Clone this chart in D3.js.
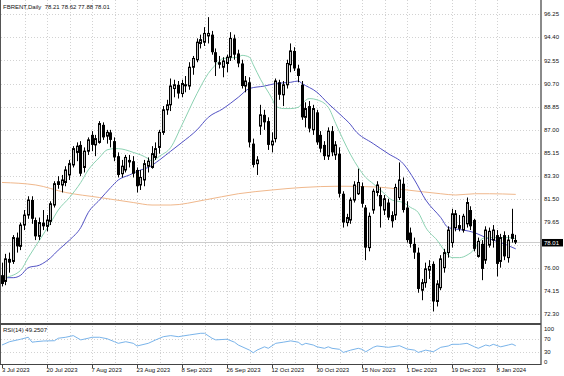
<!DOCTYPE html>
<html>
<head>
<meta charset="utf-8">
<script src="https://cdn.jsdelivr.net/npm/d3@7"></script>
<style>
  html, body { margin: 0; padding: 0; background: #fff; }
  svg { display: block; font-family: "Liberation Sans", Arial, sans-serif; }
</style>
</head>
<body>
<div id="chart"></div>
<script>
// chart values
const chartTitle = "FBRENT,Daily  78.21 78.62 77.88 78.01";
const rsiTitle = "RSI(14) 49.2507";
const holidays = ["2023-07-04", "2023-12-25", "2024-01-01"];
const dateLabels = ["3 Jul 2023", "20 Jul 2023", "7 Aug 2023", "23 Aug 2023", "8 Sep 2023", "26 Sep 2023",
  "12 Oct 2023", "30 Oct 2023", "15 Nov 2023", "1 Dec 2023", "19 Dec 2023", "8 Jan 2024"];
const priceTicks = ["96.25", "94.40", "92.55", "90.70", "88.85", "87.00", "85.15", "83.30", "81.50",
  "79.65", "77.80", "76.00", "74.15", "72.30"];
const rsiTicks = ["100", "70", "30", "0"];
const lastPrice = 78.01;

const opens = [
  75.4, 74.9, 76.7, 76.5, 78.4, 77.7, 79.4, 80.2, 81.4, 79.8,
  78.5, 79.6, 79.3, 79.7, 81.0, 82.9, 82.6, 82.8, 83.4, 84.2,
  85.2, 85.8, 84.0, 85.3, 86.6, 85.8, 86.0, 87.4, 86.5, 86.8,
  86.1, 84.9, 83.5, 83.8, 84.6, 84.5, 83.8, 82.6, 83.0, 84.1,
  84.0, 84.8, 85.6, 86.8, 88.6, 89.0, 90.3, 90.6, 89.9, 90.6,
  90.5, 92.0, 92.6, 93.9, 94.0, 94.5, 94.6, 93.2, 92.4, 92.0,
  92.3, 92.8, 94.3, 93.1, 92.3, 90.5, 90.8, 85.9, 84.3, 87.3,
  88.2, 87.7, 85.8, 86.3, 90.8, 89.8, 90.6, 92.2, 93.3, 91.9,
  90.6, 88.0, 88.9, 87.0, 88.4, 86.6, 85.8, 84.9, 86.9, 85.0,
  85.1, 81.9, 79.6, 79.8, 81.4, 81.9, 82.5, 80.8, 77.6, 80.6,
  82.0, 81.8, 80.6, 81.2, 80.2, 80.2, 81.6, 82.7, 80.8, 78.8,
  77.9, 77.2, 74.2, 74.8, 75.8, 76.3, 73.3, 74.4, 76.0, 77.2,
  78.0, 79.2, 79.4, 79.0, 79.5, 80.6, 79.8, 76.9, 77.9, 76.6,
  77.8, 78.2, 78.6, 76.5, 78.6, 76.8, 78.7, 78.21
];
const highs = [
  76.4, 77.1, 77.2, 78.6, 78.8, 79.6, 80.6, 81.7, 81.7, 80.0,
  80.0, 80.6, 80.2, 81.3, 82.9, 83.3, 83.4, 84.1, 84.6, 85.7,
  86.0, 86.1, 85.6, 86.4, 86.9, 86.6, 87.7, 87.6, 87.0, 87.0,
  86.4, 85.2, 84.6, 85.0, 85.0, 84.9, 84.0, 83.8, 84.6, 84.8,
  85.7, 86.0, 87.0, 88.9, 89.4, 91.1, 91.0, 90.9, 91.0, 91.3,
  92.4, 92.9, 94.3, 94.6, 95.2, 96.0, 94.9, 93.5, 92.9, 92.8,
  93.0, 94.8, 94.6, 93.4, 92.6, 91.3, 91.2, 86.3, 84.9, 89.0,
  88.6, 88.0, 86.8, 91.1, 91.0, 90.9, 92.6, 93.9, 93.6, 92.2,
  90.9, 89.2, 89.3, 89.0, 88.6, 86.9, 86.1, 87.2, 87.3, 86.1,
  85.6, 82.1, 80.3, 81.6, 82.9, 83.9, 82.8, 81.0, 80.4, 82.3,
  82.9, 82.4, 81.8, 81.5, 80.5, 82.7, 84.4, 83.2, 81.3, 79.2,
  78.4, 77.6, 75.1, 76.4, 76.6, 76.5, 75.0, 77.0, 77.5, 79.3,
  80.7, 80.6, 80.2, 80.3, 81.6, 80.9, 79.9, 78.4, 78.2, 79.3,
  79.2, 79.4, 79.0, 78.7, 78.9, 78.6, 80.7, 78.62
];
const lows = [
  74.5, 74.6, 75.6, 76.3, 77.2, 77.4, 79.0, 79.9, 79.5, 78.2,
  78.2, 79.0, 78.9, 79.4, 80.8, 82.3, 82.0, 82.5, 83.0, 84.0,
  84.5, 83.3, 83.6, 85.0, 85.3, 84.9, 85.9, 86.2, 85.9, 85.6,
  84.5, 83.2, 83.2, 83.6, 84.0, 83.2, 82.0, 82.2, 82.5, 83.6,
  83.9, 84.6, 85.1, 86.6, 88.2, 88.5, 89.6, 89.5, 89.6, 90.0,
  90.2, 91.4, 92.4, 93.5, 93.7, 93.9, 93.0, 91.3, 91.9, 91.2,
  91.6, 92.5, 92.6, 92.0, 90.3, 90.0, 85.6, 84.0, 83.4, 86.6,
  87.0, 85.4, 85.2, 86.0, 89.4, 88.9, 90.3, 91.6, 91.7, 90.8,
  87.8, 87.2, 86.8, 86.6, 85.8, 85.2, 84.6, 84.6, 84.9, 84.6,
  81.6, 79.2, 79.3, 79.5, 81.2, 81.8, 80.8, 76.6, 77.3, 80.3,
  81.7, 79.2, 80.2, 79.8, 79.2, 79.8, 81.4, 80.4, 78.0, 77.6,
  76.7, 74.0, 73.4, 74.4, 75.1, 72.5, 72.9, 74.2, 75.6, 76.8,
  77.6, 78.9, 78.9, 78.8, 79.2, 79.0, 77.3, 76.8, 75.0, 76.3,
  77.6, 77.6, 75.3, 76.0, 76.6, 76.4, 78.0, 77.88
];
const closes = [
  74.7, 76.7, 76.4, 78.4, 77.7, 79.4, 80.2, 81.4, 79.9, 78.5,
  79.6, 79.3, 79.8, 81.1, 82.7, 82.6, 83.0, 83.8, 84.3, 85.5,
  85.7, 83.5, 85.3, 86.2, 85.8, 86.3, 87.5, 86.4, 86.8, 86.2,
  84.8, 83.4, 84.1, 84.8, 84.4, 83.5, 82.5, 83.2, 84.3, 84.5,
  85.1, 85.5, 86.8, 88.6, 89.0, 90.5, 90.6, 89.9, 90.7, 90.6,
  92.0, 92.7, 94.0, 94.2, 94.7, 94.7, 93.2, 92.4, 92.2, 92.5,
  92.8, 94.3, 93.0, 92.3, 90.5, 90.9, 86.0, 84.2, 84.6, 88.2,
  87.6, 85.8, 86.1, 90.9, 89.8, 90.6, 92.3, 93.3, 91.9, 91.3,
  88.0, 88.7, 87.1, 88.7, 86.0, 85.5, 84.9, 86.9, 85.2, 85.8,
  81.9, 79.6, 80.0, 81.4, 82.6, 82.8, 81.1, 77.6, 80.1, 82.1,
  82.6, 80.9, 81.5, 80.0, 79.7, 82.4, 83.0, 80.6, 78.2, 77.9,
  77.2, 74.3, 74.8, 75.9, 76.1, 73.3, 74.7, 76.7, 77.2, 79.0,
  80.3, 80.3, 79.1, 80.1, 81.2, 79.3, 77.5, 78.1, 75.9, 79.0,
  78.9, 79.0, 76.3, 78.4, 76.9, 78.2, 78.3, 78.01
];

// moving averages, [bar index, value]
const fastMA = [[0,75.1],[1,75.2],[5,75.8],[7,76.8],[10,78.2],[13,79.6],[15,80.6],[18,81.6],[21,82.8],[23,83.8],
  [26,84.8],[28,85.4],[30,85.5],[31,85.5],[33,85.4],[35,85.2],[37,85.0],[39,84.7],[40,84.5],[42,84.9],
  [45,85.6],[48,87.4],[52,89.9],[55,91.5],[57,92.2],[59,92.7],[63,92.8],[64,92.95],[66,92.8],[67,92.2],
  [69,91.0],[72,89.5],[73,88.9],[75,88.7],[77,88.7],[79,88.8],[80,89.1],[82,89.5],[84,89.4],[87,88.8],
  [89,87.5],[91,86.2],[93,85.0],[95,84.0],[97,83.2],[99,82.7],[102,81.9],[104,81.4],[107,81.2],[109,80.8],
  [111,80.4],[113,79.2],[116,78.2],[119,77.0],[120,76.8],[122,76.8],[124,77.0],[126,77.5],[127,78.0],
  [129,78.4],[132,78.4],[135,78.4],[137,78.3]];
const midMA = [[0,75.2],[3,75.2],[5,75.4],[7,76.0],[10,76.2],[13,76.8],[15,77.4],[18,78.2],[21,79.2],[23,80.4],
  [26,81.4],[29,82.4],[31,83.0],[34,83.4],[37,83.8],[39,84.0],[42,84.6],[45,85.3],[48,86.0],[52,87.0],
  [55,88.0],[59,88.7],[63,89.6],[66,90.3],[70,90.5],[73,90.7],[77,90.8],[79,90.9],[80,90.7],[84,90.0],
  [87,89.1],[91,88.0],[93,87.4],[94,87.0],[99,85.9],[103,85.1],[107,84.3],[110,83.0],[113,81.4],[117,80.0],
  [119,79.2],[123,79.0],[126,78.8],[129,78.4],[133,78.0],[137,77.5]];
const slowMA = [[0,82.8],[9,82.6],[17,82.0],[26,81.6],[35,81.2],[40,81.0],[45,81.0],[54,81.4],[63,81.9],
  [72,82.2],[80,82.4],[90,82.5],[99,82.45],[108,82.2],[117,81.9],[121,81.8],[126,81.9],[130,81.9],[137,81.85]];
// RSI(14), [bar index, value]
const rsiValues = [[0,51.5],[2,61.5],[5,69],[7,75],[8,60],[9,61.5],[11,63.6],[14,64.5],[15,72],[17,75],
  [19,80],[21,67],[23,72],[24,75],[26,75],[28,70.6],[30,61.5],[31,56.6],[33,61.5],[35,56.6],[36,48.5],
  [39,56.6],[41,67],[43,76.7],[45,80],[47,76.7],[50,82],[53,87],[54,87],[56,72],[57,67],[60,69],[62,60],
  [63,51.5],[66,36],[67,28],[68,36],[70,46],[71,41.5],[73,56.6],[75,60],[77,64],[79,60],[80,51.5],
  [81,56.6],[83,51.5],[84,46],[86,41.5],[87,46],[88,41.5],[90,38.4],[91,29],[93,36],[95,41.5],[96,38.4],
  [97,31],[99,44.5],[100,48.5],[103,44.5],[104,46],[106,49.4],[108,39.4],[110,36],[111,29],[113,36],
  [115,31],[117,44.5],[119,48.5],[120,53.6],[122,53.6],[124,56.6],[126,46],[127,41.5],[129,51.5],
  [130,48.5],[131,53.6],[133,46],[135,51.5],[136,54.5],[137,49.3]];

(() => {
  const width = 564, height = 376;
  const plotLeft = 0.5, plotRight = 541;
  const mainBottom = 323;
  const rsiTop = 325, rsiBottom = 364;
  const gridColor = "#d2d2d2";

  // trading days from 3 Jul 2023
  const keyFmt = d3.timeFormat("%Y-%m-%d");
  const labelFmt = d3.timeFormat("%-d %b %Y");
  const days = [];
  let day = new Date(2023, 6, 3);
  while (days.length < closes.length) {
    const wd = day.getDay();
    if (wd !== 0 && wd !== 6 && !holidays.includes(keyFmt(day))) days.push(day);
    day = d3.timeDay.offset(day, 1);
  }
  const bars = days.map((d, i) => ({ i: i, date: d, o: opens[i], h: highs[i], l: lows[i], c: closes[i] }));

  const step = 3.75;
  const x = d3.scaleBand()
    .domain(d3.range(bars.length))
    .range([0.125, 0.125 + step * bars.length])
    .paddingInner(0.2).paddingOuter(0.1);
  const cx = i => x(i) + x.bandwidth() / 2;

  const y = d3.scaleLinear().domain([72.30, 96.25]).range([314, 14]);
  const yr = d3.scaleLinear().domain([0, 100]).range([362, 329]);

  const svg = d3.select("#chart").append("svg")
    .attr("width", width).attr("height", height);

  svg.append("defs").append("clipPath").attr("id", "mainClip")
    .append("rect").attr("x", 1).attr("y", 0).attr("width", plotRight - 1).attr("height", mainBottom);

  // grid: horizontal at price ticks
  const grid = svg.append("g").attr("stroke", gridColor).attr("stroke-dasharray", "1,2").attr("stroke-width", 1);
  priceTicks.forEach(t => {
    const yy = Math.round(y(+t)) + 0.5;
    grid.append("line").attr("x1", 1).attr("x2", plotRight).attr("y1", yy).attr("y2", yy);
  });
  // vertical grid every 6 bars
  d3.range(6, bars.length, 6).forEach(i => {
    const xx = Math.round(cx(i)) + 0.5;
    grid.append("line").attr("x1", xx).attr("x2", xx).attr("y1", 0).attr("y2", mainBottom);
    grid.append("line").attr("x1", xx).attr("x2", xx).attr("y1", rsiTop + 1).attr("y2", rsiBottom);
  });
  // rsi levels
  [70, 30].forEach(v => {
    const yy = Math.round(yr(v)) + 0.5;
    grid.append("line").attr("x1", 1).attr("x2", plotRight).attr("y1", yy).attr("y2", yy);
  });

  const main = svg.append("g").attr("clip-path", "url(#mainClip)");

  // bid line
  const bidY = Math.round(y(lastPrice)) + 0.5;
  main.append("line").attr("x1", 1).attr("x2", plotRight).attr("y1", bidY).attr("y2", bidY)
    .attr("stroke", "#cccccc").attr("stroke-width", 1);

  // moving averages
  const maLine = d3.line()
    .x(d => cx(d[0]))
    .y(d => y(d[1]))
    .curve(d3.curveMonotoneX);
  main.append("path").datum(slowMA).attr("d", maLine)
    .attr("fill", "none").attr("stroke", "#f0b88c").attr("stroke-width", 1);
  main.append("path").datum(midMA).attr("d", maLine)
    .attr("fill", "none").attr("stroke", "#5252c4").attr("stroke-width", 1);
  main.append("path").datum(fastMA).attr("d", maLine)
    .attr("fill", "none").attr("stroke", "#8cd2b2").attr("stroke-width", 1);

  // candles
  const candle = main.selectAll("g.candle").data(bars).enter().append("g").attr("class", "candle");
  candle.append("line")
    .attr("x1", d => Math.round(cx(d.i) - 1.5) + 1.5)
    .attr("x2", d => Math.round(cx(d.i) - 1.5) + 1.5)
    .attr("y1", d => y(d.h))
    .attr("y2", d => y(d.l))
    .attr("stroke", "#000").attr("stroke-width", 1);
  candle.append("rect")
    .attr("x", d => Math.round(cx(d.i) - 1.5) + (d.c >= d.o ? 0.5 : 0))
    .attr("width", d => d.c >= d.o ? 2 : 3)
    .attr("y", d => y(Math.max(d.o, d.c)))
    .attr("height", d => Math.max(1, Math.abs(y(d.o) - y(d.c))))
    .attr("fill", d => d.c >= d.o ? "#c0c0c0" : "#000")
    .attr("stroke", d => d.c >= d.o ? "#000" : "none")
    .attr("stroke-width", 1);

  // RSI
  const rsiLine = d3.line().x(d => cx(d[0])).y(d => yr(d[1]));
  svg.append("path").datum(rsiValues).attr("d", rsiLine)
    .attr("fill", "none").attr("stroke", "#7ab4ea").attr("stroke-width", 1);

  // frames
  const frame = svg.append("g").attr("fill", "none");
  frame.append("line").attr("x1", plotLeft).attr("x2", plotLeft).attr("y1", 0).attr("y2", rsiBottom)
    .attr("stroke", "#555");
  frame.append("line").attr("x1", plotRight).attr("x2", plotRight).attr("y1", 0).attr("y2", rsiBottom + 1)
    .attr("stroke", "#8a8a8a").attr("stroke-width", 2);
  frame.append("line").attr("x1", 0).attr("x2", plotRight).attr("y1", mainBottom + 1).attr("y2", mainBottom + 1)
    .attr("stroke", "#4a4a4a").attr("stroke-width", 2);
  frame.append("line").attr("x1", 0).attr("x2", plotRight).attr("y1", rsiBottom + 0.5).attr("y2", rsiBottom + 0.5)
    .attr("stroke", "#444");

  // text
  const txt = svg.append("g").attr("font-size", "6px").attr("fill", "#111");
  txt.append("text").attr("x", 3).attr("y", 9).text(chartTitle).attr("xml:space", "preserve");
  txt.append("text").attr("x", 3).attr("y", 332).text(rsiTitle);

  priceTicks.forEach(t => {
    if (Math.abs(+t - lastPrice) < 0.8) return;
    txt.append("text").attr("x", 544).attr("y", y(+t) + 2.2).text(t);
  });
  rsiTicks.forEach(t => {
    txt.append("text").attr("x", 544).attr("y", yr(+t) + 2.2).text(t);
  });

  // current price box
  svg.append("rect").attr("x", 542).attr("y", y(lastPrice) - 3.5).attr("width", 21).attr("height", 7.5)
    .attr("fill", "#000");
  svg.append("text").attr("x", 544).attr("y", y(lastPrice) + 2.3).attr("font-size", "6px")
    .attr("fill", "#fff").text(lastPrice.toFixed(2));

  // date labels
  bars.forEach(b => {
    const lbl = labelFmt(b.date);
    if (!dateLabels.includes(lbl)) return;
    const xx = Math.round(cx(b.i)) + 0.5;
    svg.append("line").attr("x1", xx).attr("x2", xx).attr("y1", rsiBottom + 1).attr("y2", rsiBottom + 4)
      .attr("stroke", "#444");
    txt.append("text").attr("x", Math.max(2, xx - 1)).attr("y", 372).text(lbl);
  });
})();
</script>
</body>
</html>
